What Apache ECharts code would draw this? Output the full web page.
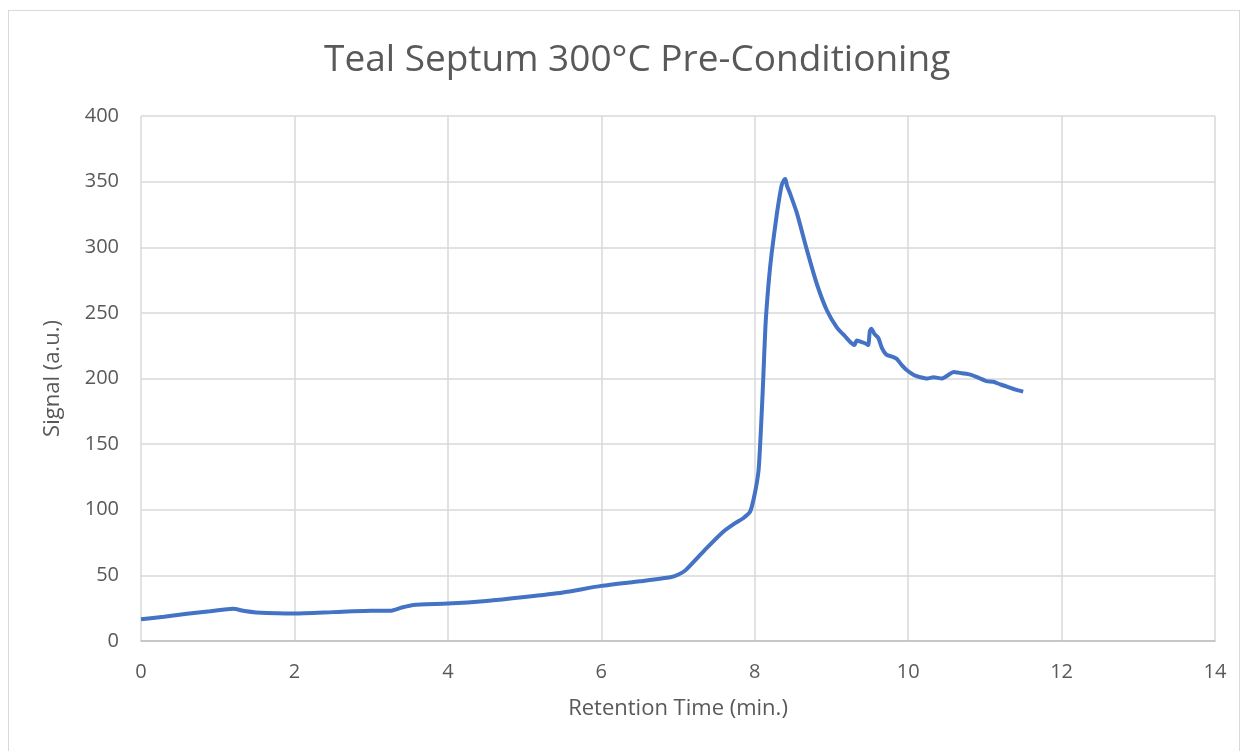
<!DOCTYPE html>
<html>
<head>
<meta charset="utf-8">
<script src="https://cdn.jsdelivr.net/npm/echarts@6/dist/echarts.min.js"></script>
<style>
  html, body { margin: 0; padding: 0; background: #fff; }
  #frame {
    position: absolute; left: 8px; top: 10px; width: 1232px; height: 745px;
    border: 1px solid #d9d9d9; box-sizing: border-box;
  }
  #chart { position: absolute; left: 0; top: 0; width: 1246px; height: 751px; }
</style>
</head>
<body>
<div id="frame"></div>
<div id="chart"></div>
<script>
// retention time (min.)
var times = [0, 0.3, 0.6, 0.9, 1.2, 1.35, 1.5, 2, 2.5, 3, 3.25, 3.4, 3.55, 4, 4.5, 5, 5.5, 6, 6.5, 6.9,
  7.0, 7.1, 7.37, 7.59, 7.75, 7.85, 7.94, 8.0, 8.05, 8.08, 8.11, 8.14, 8.18, 8.22, 8.29, 8.35, 8.38, 8.40,
  8.42, 8.46, 8.55, 8.68, 8.81, 8.94, 9.07, 9.18, 9.26, 9.3, 9.33, 9.38, 9.45, 9.48, 9.5, 9.52, 9.56,
  9.61, 9.66, 9.72, 9.8, 9.85, 9.92, 9.98, 10.08, 10.16, 10.25, 10.33, 10.44, 10.52, 10.59, 10.7, 10.81,
  10.92, 11.02, 11.11, 11.2, 11.28, 11.4, 11.5];
// signal (a.u.)
var signal = [16.5, 18.5, 20.8, 22.6, 24.5, 22.8, 21.8, 21.0, 22.0, 23, 23, 25.5, 27.5, 28.5, 30.5, 33.5, 37, 42, 45.5, 48.5,
  50.5, 54, 70.6, 83.3, 90, 93.5, 98.5, 112, 130, 160, 198, 240, 272, 295, 326, 347, 351, 352,
  347, 341, 326, 298, 272, 252, 239, 232, 227, 225.5, 229, 228, 226.5, 225.5, 236, 238, 234,
  231, 223, 218, 216.5, 215, 210, 206.5, 202.5, 201, 200, 201, 200, 202.5, 205, 204, 203,
  200.5, 198, 197.5, 195.5, 194, 191.5, 190];

var xTicks = {min: 0, max: 14, step: 2};
var yTicks = {min: 0, max: 400, step: 50};

var pts = times.map(function (t, i) { return [t, signal[i]]; });
var font = '"Open Sans", "Noto Sans", sans-serif';
var txt = '#595959';

var chart = echarts.init(document.getElementById('chart'));
chart.setOption({
  animation: false,
  title: {
    text: 'Teal Septum 300°C Pre-Conditioning',
    left: 319, top: 37,
    textStyle: {fontFamily: font, fontSize: 37, fontWeight: 'normal', color: txt}
  },
  grid: {left: 141, right: 31, top: 116, bottom: 110},
  xAxis: {
    type: 'value', min: xTicks.min, max: xTicks.max, interval: xTicks.step,
    name: 'Retention Time (min.)', nameLocation: 'middle', nameGap: 57,
    nameTextStyle: {fontFamily: font, fontSize: 22, color: txt},
    axisLine: {show: true, onZero: false, lineStyle: {color: '#bfbfbf', width: 1.5}},
    axisTick: {show: false},
    axisLabel: {fontFamily: font, fontSize: 20, color: txt, margin: 21},
    splitLine: {show: true, lineStyle: {color: '#d9d9d9', width: 1.5}}
  },
  yAxis: {
    type: 'value', min: yTicks.min, max: yTicks.max, interval: yTicks.step,
    name: 'Signal (a.u.)', nameLocation: 'middle', nameGap: 77, nameRotate: 90,
    nameTextStyle: {fontFamily: font, fontSize: 22, color: txt},
    axisLine: {show: false},
    axisTick: {show: false},
    axisLabel: {fontFamily: font, fontSize: 20, color: txt, margin: 22},
    splitLine: {show: true, lineStyle: {color: '#d9d9d9', width: 1.5}}
  },
  series: [{
    type: 'line',
    data: pts,
    showSymbol: false,
    smooth: 0.2,
    lineStyle: {color: '#4472c4', width: 4}
  }]
});
</script>
</body>
</html>
